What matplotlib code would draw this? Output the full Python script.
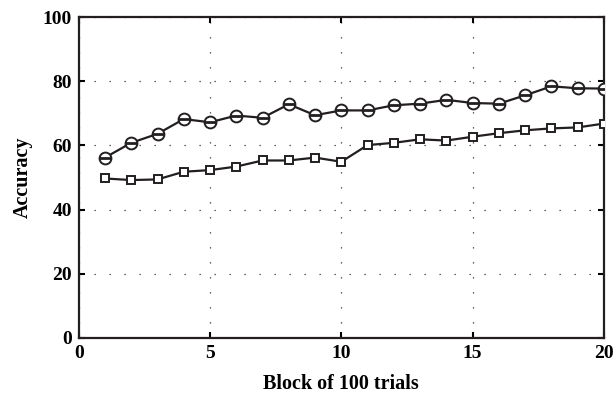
import numpy as np
import matplotlib.pyplot as plt

# Accuracy per block
blocks = np.arange(1, 21)
acc_circle = [56.2, 60.8, 63.6, 68.2, 67.2, 69.3, 68.6, 72.8, 69.4, 70.9,
              70.9, 72.5, 73.0, 74.2, 73.2, 73.0, 75.6, 78.4, 77.8, 77.7]
acc_square = [49.7, 49.2, 49.4, 51.8, 52.3, 53.4, 55.3, 55.3, 56.2, 54.9,
              60.1, 60.8, 61.9, 61.5, 62.7, 63.8, 64.7, 65.3, 65.6, 66.8]

plt.rcParams["font.family"] = ["Liberation Serif", "DejaVu Serif"]
plt.rcParams["font.weight"] = "bold"

fig = plt.figure(figsize=(6.15, 4), dpi=100)
ax = fig.add_axes([0.128, 0.155, 0.854, 0.8025])

ax.plot(blocks, acc_circle, color="#231f20", lw=1.6, marker="o", ms=8.5,
        mfc="white", mec="#231f20", mew=1.4, zorder=3)
ax.plot(blocks, acc_circle, ls="none", marker="_", ms=8.5, mec="#231f20",
        mew=2, zorder=4)
ax.plot(blocks, acc_square, color="#231f20", lw=1.6, marker="s", ms=6,
        mfc="white", mec="#231f20", mew=1.4, zorder=3)

ax.set_xlim(0, 20)
ax.set_ylim(0, 100)
ax.set_xticks([0, 5, 10, 15, 20])
ax.set_yticks([0, 20, 40, 60, 80, 100])
ax.grid(True, color="#333333", lw=0.9, ls=(0, (1, 11)))
ax.tick_params(direction="in", top=True, right=True, length=4, width=1.5,
               labelsize=14, pad=5)
for s in ax.spines.values():
    s.set_linewidth(1.6)
    s.set_color("#231f20")

ax.set_xlabel("Block of 100 trials", fontsize=14.5, fontweight="bold", labelpad=9)
ax.set_ylabel("Accuracy", fontsize=14.5, fontweight="bold", labelpad=7)

fig.savefig("out.png", dpi=100)
